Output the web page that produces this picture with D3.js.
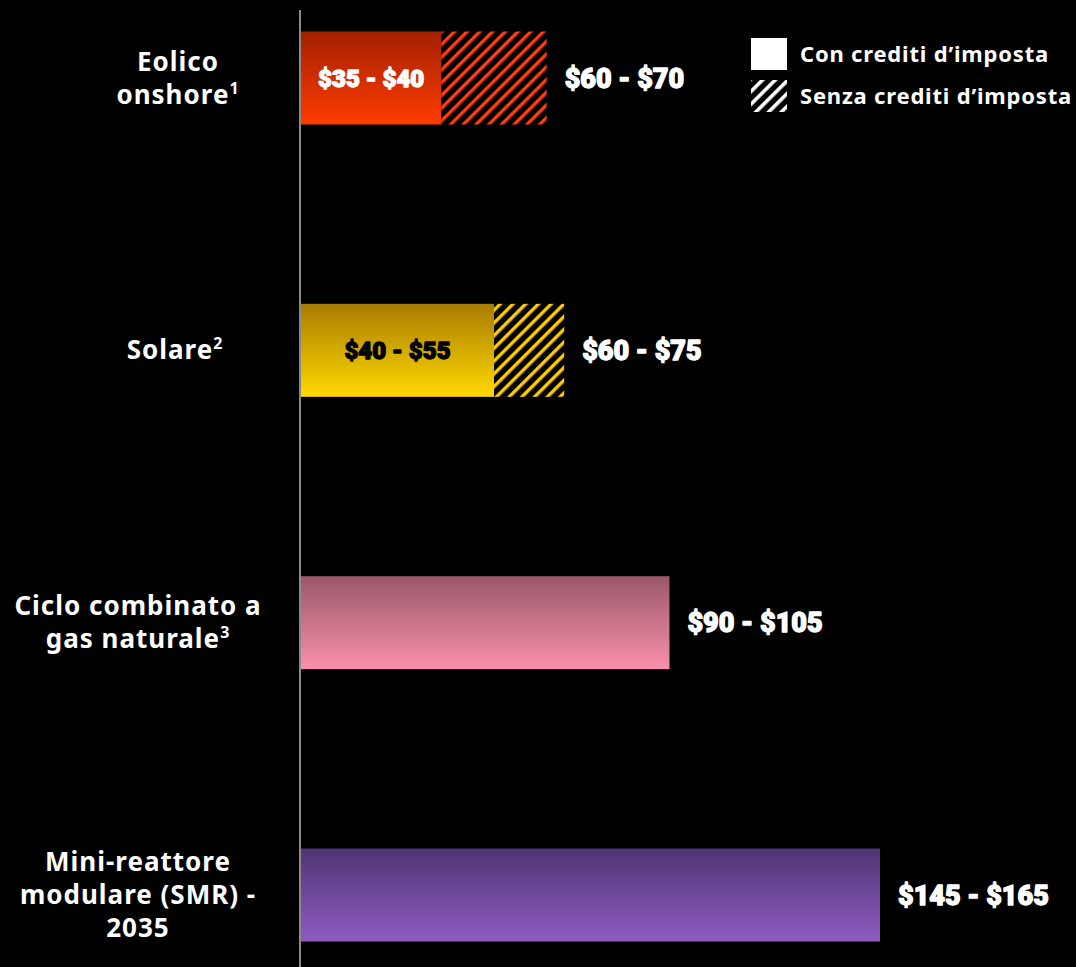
<!DOCTYPE html>
<html lang="it">
<head>
<meta charset="utf-8">
<script src="https://cdn.jsdelivr.net/npm/d3@7"></script>
<style>
  html, body { margin: 0; padding: 0; background: #000; }
  svg { display: block; }
  .cat { font-family: "Noto Sans", "Open Sans", sans-serif; font-weight: 700; fill: #fff; letter-spacing: 1px; }
  .val { font-family: Roboto, Inter, sans-serif; font-weight: 900; letter-spacing: 0px; stroke-width: 1.3px; stroke-linejoin: round; }
  .leg { font-family: "Noto Sans", "Open Sans", sans-serif; font-weight: 700; fill: #fff; letter-spacing: 0.8px; }
</style>
</head>
<body>
<script>
// Costo livellato dell'energia (USD/MWh), intervalli per tecnologia
const categories = ["Eolico onshore", "Solare", "Ciclo combinato a gas naturale", "Mini-reattore modulare (SMR) - 2035"];
const labelLines = [["Eolico", "onshore"], ["Solare"], ["Ciclo combinato a", "gas naturale"], ["Mini-reattore", "modulare (SMR) -", "2035"]];
const footnotes = ["1", "2", "3", ""];
// Con crediti d'imposta: [min, max]; null where no credit applies
const withCreditLow  = [35, 40, null, null];
const withCreditHigh = [40, 55, null, null];
// Senza crediti d'imposta: [min, max]
const noCreditLow  = [60, 60, 90, 145];
const noCreditHigh = [70, 75, 105, 165];
const legendLabels = ["Con crediti d\u2019imposta", "Senza crediti d\u2019imposta"];

const palette = [
  { top: "#a32000", bottom: "#ff3c00", hatch: "#ff3d0d", inner: "#fff" },
  { top: "#a87c00", bottom: "#ffd800", hatch: "#ffcb00", inner: "#000" },
  { top: "#9a5868", bottom: "#f990ab", hatch: "#f990ab", inner: "#000" },
  { top: "#503473", bottom: "#8e5cc2", hatch: "#8e5cc2", inner: "#fff" }
];

const W = 1076, H = 967;
const axisX = 301;
const barH = 93;

const svg = d3.select("body").append("svg").attr("width", W).attr("height", H);
const defs = svg.append("defs");

const rows = categories.map((c, i) => ({
  name: c, i,
  lines: labelLines[i], note: footnotes[i],
  cLo: withCreditLow[i], cHi: withCreditHigh[i],
  nLo: noCreditLow[i], nHi: noCreditHigh[i],
  col: palette[i]
}));

const x = d3.scaleLinear().domain([0, d3.max(noCreditHigh)]).range([axisX, 880]);
const y = d3.scalePoint().domain(categories).range([78, 895]);

const fmt = v => "$" + v;

// gradients and hatch patterns per row
rows.forEach(r => {
  const g = defs.append("linearGradient").attr("id", "grad" + r.i)
    .attr("x1", 0).attr("y1", 0).attr("x2", 0).attr("y2", 1);
  g.append("stop").attr("offset", "0%").attr("stop-color", r.col.top);
  g.append("stop").attr("offset", "100%").attr("stop-color", r.col.bottom);

  const p = defs.append("pattern").attr("id", "hatch" + r.i)
    .attr("patternUnits", "userSpaceOnUse").attr("width", 9).attr("height", 9)
    .attr("patternTransform", "rotate(45)");
  p.append("rect").attr("width", 9).attr("height", 9).attr("fill", "#000");
  p.append("rect").attr("width", 3.4).attr("height", 9).attr("fill", r.col.hatch);
});
const lp = defs.append("pattern").attr("id", "hatchLegend")
  .attr("patternUnits", "userSpaceOnUse").attr("width", 9).attr("height", 9)
  .attr("patternTransform", "rotate(45)");
lp.append("rect").attr("width", 9).attr("height", 9).attr("fill", "#000");
lp.append("rect").attr("width", 3.6).attr("height", 9).attr("fill", "#fff");

// bars
const g = svg.append("g");
rows.forEach(r => {
  const top = y(r.name) - barH / 2;
  const hasCredit = r.cHi != null;
  const solidEnd = hasCredit ? x(r.cHi) : x(r.nHi);
  g.append("rect").attr("x", x(0)).attr("y", top)
    .attr("width", solidEnd - x(0)).attr("height", barH)
    .attr("fill", `url(#grad${r.i})`);
  if (hasCredit) {
    g.append("rect").attr("x", x(r.cHi)).attr("y", top)
      .attr("width", x(r.nHi) - x(r.cHi)).attr("height", barH)
      .attr("fill", `url(#hatch${r.i})`);
    g.append("text").attr("class", "val")
      .attr("x", (x(0) + x(r.cHi)) / 2).attr("y", y(r.name))
      .attr("dy", "0.36em").attr("text-anchor", "middle")
      .attr("font-size", 24).attr("fill", r.col.inner).attr("stroke", r.col.inner)
      .text(`${fmt(r.cLo)} - ${fmt(r.cHi)}`);
  }
  g.append("text").attr("class", "val")
    .attr("x", x(r.nHi) + 18).attr("y", y(r.name))
    .attr("dy", "0.36em").attr("font-size", 27).attr("fill", "#fff").attr("stroke", "#fff")
    .text(`${fmt(r.nLo)} - ${fmt(r.nHi)}`);
});

// vertical baseline
svg.append("line").attr("x1", axisX - 1).attr("x2", axisX - 1)
  .attr("y1", 10).attr("y2", H).attr("stroke", "#8a8a8a").attr("stroke-width", 2);

// category labels
const labelCenter = [178, 175, 138, 138];
const lineH = 33;
rows.forEach(r => {
  const n = r.lines.length;
  const t = svg.append("text").attr("class", "cat").attr("font-size", 26)
    .attr("text-anchor", "middle");
  r.lines.forEach((ln, k) => {
    const ts = t.append("tspan").attr("x", labelCenter[r.i])
      .attr("y", y(r.name) + (k - (n - 1) / 2) * lineH + 9).text(ln);
    if (k === n - 1 && r.note) {
      ts.append("tspan").attr("font-size", 16).attr("dy", -10).text(r.note);
    }
  });
});

// legend
const leg = svg.append("g").attr("transform", "translate(751,38)");
leg.append("rect").attr("width", 36).attr("height", 32).attr("fill", "#fff");
leg.append("rect").attr("y", 42).attr("width", 36).attr("height", 32).attr("fill", "url(#hatchLegend)");
leg.selectAll("text.leg").data(legendLabels).join("text").attr("class", "leg")
  .attr("x", 49).attr("y", (d, i) => 16 + i * 42).attr("dy", "0.36em")
  .attr("font-size", 22).text(d => d);
</script>
</body>
</html>
